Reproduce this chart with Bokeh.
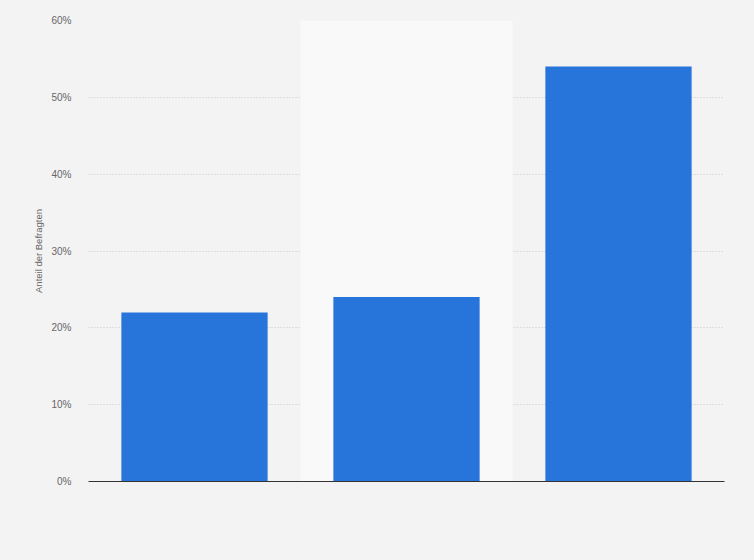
from bokeh.plotting import figure
from bokeh.models import Range1d, FixedTicker, NumeralTickFormatter, BoxAnnotation, ColumnDataSource
from bokeh.embed import file_html
from bokeh.resources import INLINE

categories = ["Kategorie 1", "Kategorie 2", "Kategorie 3"]
values = [22, 24, 54]
y_ticks = [0, 10, 20, 30, 40, 50, 60]
y_label = "Anteil der Befragten"

positions = [i + 0.5 for i in range(len(categories))]
src = ColumnDataSource(dict(x=positions, top=[v / 100 for v in values], cat=categories))

p = figure(width=754, height=560, output_backend="svg", toolbar_location=None,
           x_range=Range1d(0, len(categories)), y_range=Range1d(0, 0.6),
           min_border_left=88, min_border_right=30, min_border_top=20, min_border_bottom=79)
p.background_fill_color = "#f3f3f3"
p.border_fill_color = "#f3f3f3"
p.outline_line_color = None

for i in range(len(categories)):
    if i % 2 == 1:
        p.add_layout(BoxAnnotation(left=i, right=i + 1, fill_color="#f9f9f9", fill_alpha=1.0,
                                   line_color=None, level="underlay"))

p.vbar(x="x", top="top", width=0.69, source=src, fill_color="#2775db", line_color=None)

p.yaxis.ticker = FixedTicker(ticks=[t / 100 for t in y_ticks])
p.yaxis.formatter = NumeralTickFormatter(format="0%")
p.yaxis.axis_line_color = None
p.yaxis.major_tick_line_color = None
p.yaxis.minor_tick_line_color = None
p.yaxis.major_label_text_color = "#666666"
p.yaxis.major_label_text_font = "Arial"
p.yaxis.major_label_text_font_size = "10px"
p.yaxis.major_label_standoff = 11
p.yaxis.axis_label = y_label
p.yaxis.axis_label_text_font = "Arial"
p.yaxis.axis_label_text_font_style = "normal"
p.yaxis.axis_label_text_font_size = "9.5px"
p.yaxis.axis_label_text_color = "#666666"
p.yaxis.axis_label_standoff = 4

p.xaxis.ticker = FixedTicker(ticks=[])
p.xaxis.axis_line_color = "#333333"
p.xaxis.axis_line_width = 1
p.xaxis.major_tick_line_color = None
p.xaxis.minor_tick_line_color = None

p.xgrid.grid_line_color = None
p.ygrid.grid_line_color = "#c8c8c8"
p.ygrid.grid_line_dash = "1 2"

html = file_html(p, INLINE)
html = html.replace("</head>", "<style>body{background:#f3f3f3;}</style></head>", 1)
open("out.html", "w").write(html)
